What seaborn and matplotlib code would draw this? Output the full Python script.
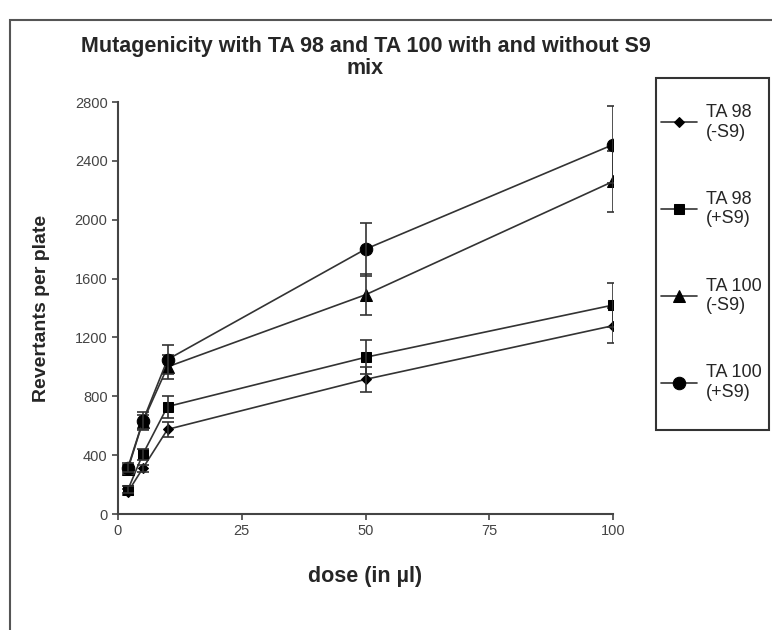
import pandas as pd
import seaborn as sns
import matplotlib.pyplot as plt
from matplotlib.patches import Rectangle

sns.set_style('white')
plt.rcParams['font.family'] = ['Liberation Sans', 'DejaVu Sans']

# doses and revertant counts
dose = [2, 5, 10, 50, 100]
ta98_minus = [150, 310, 575, 915, 1280]
ta98_plus = [165, 405, 730, 1065, 1420]
ta100_minus = [305, 625, 1000, 1490, 2260]
ta100_plus = [315, 630, 1050, 1800, 2510]
# error bars (+/-)
err98_minus = [20, 25, 50, 85, 120]
err98_plus = [25, 40, 75, 115, 150]
err100_minus = [30, 50, 80, 140, 210]
err100_plus = [30, 60, 100, 180, 260]

labels = ['TA 98\n(-S9)', 'TA 98\n(+S9)', 'TA 100\n(-S9)', 'TA 100\n(+S9)']
values = [ta98_minus, ta98_plus, ta100_minus, ta100_plus]
errors = [err98_minus, err98_plus, err100_minus, err100_plus]
markers = {labels[0]: 'D', labels[1]: 's', labels[2]: '^', labels[3]: 'o'}
msizes = [5, 7.5, 8, 9]

rows = []
for lab, vals in zip(labels, values):
    for d, v in zip(dose, vals):
        rows.append({'dose': d, 'revertants': v, 'series': lab})
df = pd.DataFrame(rows)

fig = plt.figure(figsize=(7.72, 6.3), dpi=100)
ax = fig.add_axes([118/772, 1-514/630, 495/772, 412/630])

line_col = '#333333'
for lab, vals, err, ms in zip(labels, values, errors, msizes):
    sub = df[df['series'] == lab]
    sns.lineplot(data=sub, x='dose', y='revertants', ax=ax, color=line_col,
                 marker=markers[lab], markersize=ms, markeredgecolor='black',
                 markerfacecolor='black', linewidth=1.2, label=lab)
    ax.errorbar(dose, vals, yerr=err, fmt='none', ecolor=line_col,
                elinewidth=1.2, capsize=4, capthick=1.2)

ax.set_xlim(0, 100)
ax.set_ylim(0, 2800)
ax.set_xticks([0, 25, 50, 75, 100])
ax.set_yticks(range(0, 2801, 400))
ax.tick_params(axis='both', direction='out', length=4, width=1.2,
               colors='#444444', labelsize=10.5, bottom=True, left=True)
for s in ['top', 'right']:
    ax.spines[s].set_visible(False)
for s in ['left', 'bottom']:
    ax.spines[s].set_color('#444444')
    ax.spines[s].set_linewidth(1.5)

ax.set_xlabel('dose (in µl)', fontsize=15.5, fontweight='bold', labelpad=20)
ax.set_ylabel('Revertants per plate', fontsize=14, fontweight='bold', labelpad=18)
ax.set_title('Mutagenicity with TA 98 and TA 100 with and without S9\nmix',
             fontsize=15.5, fontweight='bold', pad=20, linespacing=1.05)

ax.get_legend().remove()
handles, labs = ax.get_legend_handles_labels()
leg = fig.legend(handles, labs, loc='upper left',
                 bbox_to_anchor=(661/772, 1-104/630), fontsize=13,
                 labelspacing=2.78, handlelength=2.0, handletextpad=0.5,
                 borderpad=0, borderaxespad=0, frameon=False)

# legend box and outer frame drawn as plain rectangles
fig.patches.append(Rectangle((656/772, 1-430/630), 113/772, 352/630,
                             transform=fig.transFigure, fill=False,
                             edgecolor='#333333', linewidth=1.5))
fig.patches.append(Rectangle((10/772, -0.1), 1.2, 1-20/630+0.1,
                             transform=fig.transFigure, fill=False,
                             edgecolor='#555555', linewidth=1.5))

fig.savefig('out.png', dpi=100)
